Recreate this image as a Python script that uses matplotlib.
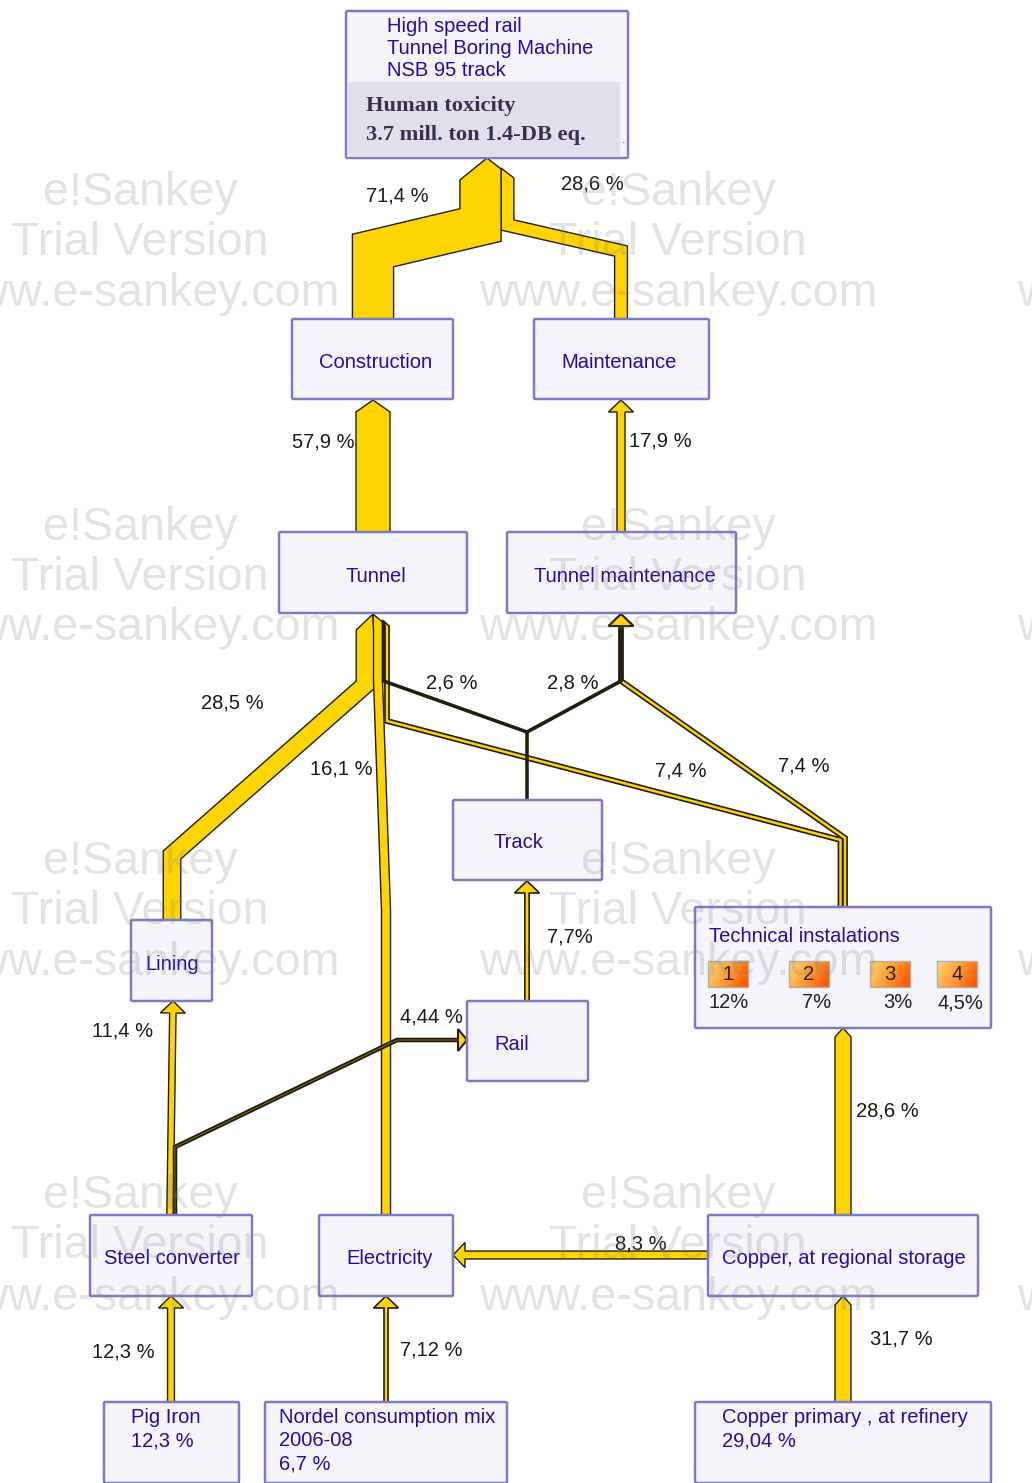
import matplotlib
matplotlib.use("Agg")
import matplotlib.pyplot as plt
from matplotlib.patches import FancyBboxPatch, Polygon, Rectangle
import numpy as np

# values
flow_names = ["top_constr", "top_maint", "constr_tunnel", "maint_tmaint", "tunnel_lining",
	"tunnel_elec", "tunnel_track", "tmaint_track", "tunnel_tech", "tmaint_tech",
	"track_rail", "lining_steel", "rail_steel", "tech_copper", "elec_copper",
	"steel_pig", "elec_nordel", "copper_primary"]
flow_values = [71.4, 28.6, 57.9, 17.9, 28.5, 16.1, 2.6, 2.8, 7.4, 7.4, 7.7, 11.4, 4.44, 28.6, 8.3, 12.3, 7.12, 31.7]
flow_labels = ["71,4 %", "28,6 %", "57,9 %", "17,9 %", "28,5 %", "16,1 %", "2,6 %", "2,8 %", "7,4 %", "7,4 %",
	"7,7%", "11,4 %", "4,44 %", "28,6 %", "8,3 %", "12,3 %", "7,12 %", "31,7 %"]

node_names = ["Construction", "Maintenance", "Tunnel", "Tunnel maintenance", "Track", "Lining", "Rail",
	"Steel converter", "Electricity", "Copper, at regional storage"]
source_names = ["Pig Iron\n12,3 %", "Nordel consumption mix\n2006-08\n6,7 %", "Copper primary , at refinery\n29,04 %"]
header_lines = ["High speed rail", "Tunnel Boring Machine", "NSB 95 track"]
summary_lines = ["Human toxicity", "3.7 mill. ton 1.4-DB eq."]
tech_title = "Technical instalations"
tech_ids = ["1", "2", "3", "4"]
tech_shares = ["12%", "7%", "3%", "4,5%"]

# layout, in picture pixels
W, H = 1032, 1483
SCALE = 0.56
GOLD = "#FFD500"
EDGE = "#221D0C"
BLUE = "#2A0A9E"
TEXT_SIZE = 14.5

label_pos = [(366, 196), (561, 184), (292, 442), (629, 441), (201, 703), (310, 769), (426, 683), (547, 683),
	(655, 771), (778, 766), (547, 937), (92, 1031), (400, 1017), (856, 1111), (615, 1244), (92, 1352),
	(400, 1350), (870, 1339)]

node_boxes = [(292, 319, 453, 399), (534, 319, 709, 399), (279, 532, 467, 613), (507, 532, 736, 613),
	(453, 800, 602, 880), (131, 920, 212, 1001), (467, 1001, 588, 1081),
	(90, 1215, 252, 1296), (319, 1215, 453, 1296), (708, 1215, 978, 1296)]
node_text_pos = [(319, 362), (561, 362), (346, 576), (534, 576), (494, 843), (145, 964), (494, 1044),
	(104, 1259), (346, 1259), (722, 1259)]
source_boxes = [(104, 1402, 239, 1483), (265, 1402, 507, 1483), (695, 1402, 991, 1483)]
source_text_pos = [(131, 1408), (279, 1408), (722, 1408)]
chip_left = [708, 789, 870, 937]
share_x = [729, 817, 898, 960]

# route of each flow from source to target: points, width factor, head kind, extra tip points
routes = {
	"top_maint": ([(621, 319), (621, 251), (507.5, 225), (507.5, 178)], 0.8, None, [(501, 168)]),
	"top_constr": ([(373, 319), (373, 250.5), (480.5, 225), (480.5, 180)], 1.03, None, [(487, 158), (501, 169)]),
	"constr_tunnel": ([(373, 532), (373, 412)], 1.05, None, [(373, 400)]),
	"maint_tmaint": ([(621, 532), (621, 400)], 0.8, "arrow", None),
	"tunnel_lining": ([(172, 921), (172, 855), (365, 685), (365, 630)], 1.1, None, [(373, 614)]),
	"tunnel_elec": ([(386, 1215), (386, 910), (378, 680), (378, 630)], 1.0, None, [(373, 614), (382.5, 622)]),
	"tunnel_track": ([(527, 800), (527, 732), (383.5, 681), (383.5, 622)], 1.0, None, None),
	"tmaint_track": ([(527, 732), (621, 681), (621, 614)], 1.0, "arrow", None),
	"tunnel_tech": ([(840.5, 907), (840.5, 840), (387, 721), (387, 626)], 1.0, None, [(382, 620)]),
	"tmaint_tech": ([(845, 907), (845, 838), (621, 681), (621, 614)], 1.0, "arrow", None),
	"track_rail": ([(527, 1001), (527, 881)], 1.0, "arrow", None),
	"lining_steel": ([(170, 1215), (173, 1001)], 1.0, "arrow", None),
	"rail_steel": ([(175, 1215), (175, 1147), (397, 1040), (467, 1040)], 1.0, "small", None),
	"tech_copper": ([(843, 1215), (843, 1028)], 1.0, "point", None),
	"elec_copper": ([(708, 1255), (453, 1255)], 1.7, "arrow", None),
	"steel_pig": ([(171, 1402), (171, 1296)], 1.0, "arrow", None),
	"elec_nordel": ([(386, 1402), (386, 1296)], 1.0, "arrow", None),
	"copper_primary": ([(843, 1402), (843, 1296)], 0.9, "point", None),
}
head_sizes = {"arrow": (12, 12.5), "small": (9, 11), "point": (9, None)}
draw_order = ["top_maint", "top_constr", "constr_tunnel", "maint_tmaint", "tunnel_lining", "tunnel_elec",
	"tunnel_tech", "tmaint_tech", "tunnel_track", "tmaint_track", "track_rail", "lining_steel", "rail_steel",
	"tech_copper", "elec_copper", "steel_pig", "elec_nordel", "copper_primary"]


def ribbon(points, width, head=None, tip=None):
	pts = np.array(points, dtype=float)
	head_pts = []
	if head is not None:
		length, half = head_sizes[head]
		d = pts[-1] - pts[-2]
		d = d / np.linalg.norm(d)
		n = np.array([d[1], -d[0]])
		end = pts[-1].copy()
		pts[-1] = end - d * length
		half = width / 2 if half is None else half
		head_pts = [pts[-1] + n * half, end, pts[-1] - n * half]
	dirs = np.diff(pts, axis=0)
	dirs = dirs / np.linalg.norm(dirs, axis=1, keepdims=True)
	normals = np.column_stack([dirs[:, 1], -dirs[:, 0]])
	side_a, side_b = [], []
	for i, p in enumerate(pts):
		if i == 0:
			off = normals[0]
		elif i == len(pts) - 1:
			off = normals[-1]
		else:
			m = normals[i - 1] + normals[i]
			m = m / np.linalg.norm(m)
			off = m / np.dot(m, normals[i])
		side_a.append(p + off * width / 2)
		side_b.append(p - off * width / 2)
	return side_a + head_pts + (tip or []) + side_b[::-1]


def box(ax, b, face="#F4F4FA"):
	x0, y0, x1, y1 = b
	ax.add_patch(FancyBboxPatch((x0, y0), x1 - x0, y1 - y0, boxstyle="round,pad=0,rounding_size=1.5",
		fc=face, ec="#7C7CC4", lw=1.8, zorder=3))


fig = plt.figure(figsize=(W / 100, H / 100), dpi=100)
ax = fig.add_axes([0, 0, 1, 1])
ax.axis("off")

values = dict(zip(flow_names, flow_values))
for name in draw_order:
	route, k, head, tip = routes[name]
	width = values[name] * SCALE * k
	poly = ribbon(route, width, head, tip)
	# thin flows are almost all outline in the original
	lw = 1.5 if width < 3 else (1.2 if width < 5 else 1.0)
	ax.add_patch(Polygon(poly, closed=True, fc=GOLD, ec=EDGE, lw=lw, joinstyle="miter", zorder=2))

for b in node_boxes + source_boxes:
	box(ax, b)

# top box with its grey panel
box(ax, (346, 11, 628, 158))
ax.add_patch(Rectangle((347, 82), 273, 75, fc="#E3DFEA", ec="none", zorder=3.1))
ax.text(622, 143, ".", color=BLUE, fontsize=8, ha="left", va="baseline", zorder=5)
for line, y in zip(header_lines, [26, 48, 71]):
	ax.text(387, y, line, color=BLUE, fontsize=TEXT_SIZE, family="Liberation Sans", va="center", zorder=5)
for line, y in zip(summary_lines, [106, 135]):
	ax.text(366, y, line, color="#3A3050", fontsize=16.2, family="Liberation Serif", weight="bold", va="center", zorder=5)

for name, (x, y) in zip(node_names, node_text_pos):
	ax.text(x, y, name, color=BLUE, fontsize=TEXT_SIZE, family="Liberation Sans", va="center", zorder=5)
for name, (x, y) in zip(source_names, source_text_pos):
	ax.text(x, y, name, color=BLUE, fontsize=TEXT_SIZE, family="Liberation Sans", va="top", linespacing=1.3, zorder=5)

# technical installations box with its four chips
box(ax, (695, 907, 991, 1028))
ax.text(709, 937, tech_title, color=BLUE, fontsize=TEXT_SIZE, family="Liberation Sans", va="center", zorder=5)
grad = np.linspace(0, 1, 64).reshape(1, -1) + np.linspace(0, 0.35, 24).reshape(-1, 1)
cmap = matplotlib.colors.LinearSegmentedColormap.from_list("chip", ["#FFD878", "#FF9A30", "#FF4C00"])
for x, cid, share, sx in zip(chip_left, tech_ids, tech_shares, share_x):
	ax.imshow(grad, extent=(x, x + 40, 987, 961), cmap=cmap, aspect="auto", vmin=0, vmax=1.35, zorder=4)
	ax.add_patch(Rectangle((x, 961), 40, 26, fc="none", ec="#B0B0A8", lw=1, zorder=4.1))
	ax.text(x + 20, 975, cid, color="#222222", fontsize=TEXT_SIZE, family="Liberation Sans", ha="center", va="center", zorder=5)
	ax.text(sx, 1003, share, color="#222222", fontsize=TEXT_SIZE, family="Liberation Sans", ha="center", va="center", zorder=5)

for label, (x, y) in zip(flow_labels, label_pos):
	ax.text(x, y, label, color="#1A1A1A", fontsize=TEXT_SIZE, family="Liberation Sans", va="center", zorder=5)

# watermark sits over everything
for cx in [140, 678, 1216]:
	for y0 in [193, 527.5, 862, 1196.5]:
		for t, dy in zip(["e!Sankey", "Trial Version", "www.e-sankey.com"], [0, 50, 101]):
			ax.text(cx, y0 + dy, t, color="#808080", alpha=0.22, fontsize=33.6, family="Liberation Sans",
				ha="center", va="center", clip_on=True, zorder=6)

ax.set_xlim(0, W)
ax.set_ylim(H, 0)
fig.savefig("out.png", dpi=100)
plt.close()
